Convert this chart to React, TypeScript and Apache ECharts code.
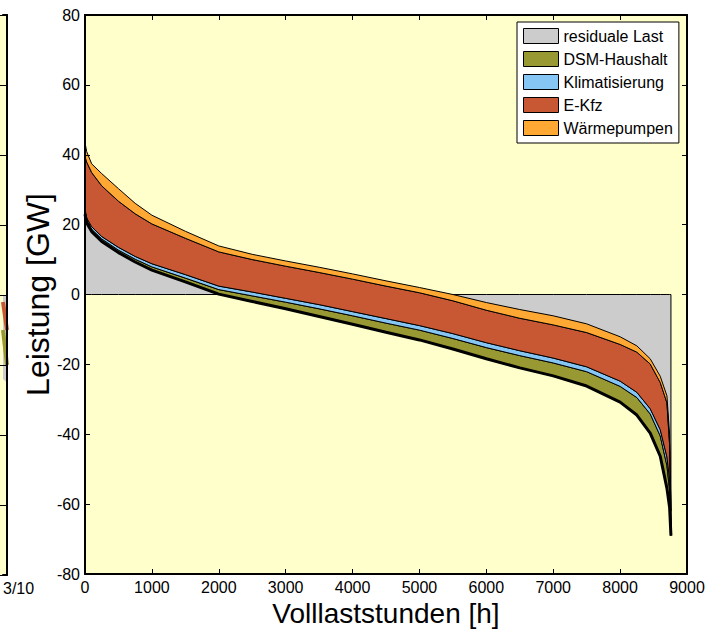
import React, { useEffect, useRef } from "react";
import * as echarts from "echarts";

// Volllaststunden [h]
const hours = [0, 25, 100, 250, 500, 750, 1000, 1500, 2000, 2500, 3000, 3500, 4000, 4500, 5000, 5500, 6000, 6500, 7000, 7500, 8000, 8250, 8450, 8600, 8700, 8740, 8760];
// residual load [GW]
const residual = [23, 20.5, 18, 15.2, 12, 9.3, 7.0, 3.6, 0.1, -2.0, -4.1, -6.3, -8.5, -10.8, -13.0, -15.6, -18.4, -21.0, -23.3, -26.2, -30.8, -34.5, -39.7, -46.3, -55.5, -61, -69];
// stacked band thicknesses [GW]
const dsm = [1, 0.8, 0.7, 0.7, 0.7, 0.8, 0.9, 1.1, 1.3, 1.6, 1.9, 2.2, 2.4, 2.6, 2.8, 3.0, 3.2, 3.5, 3.7, 4.1, 4.5, 5.0, 5.5, 5.8, 6.5, 5, 2];
const klima = [0.5, 0.6, 0.7, 0.7, 0.8, 0.8, 0.9, 1.0, 1.0, 1.1, 1.1, 1.2, 1.2, 1.3, 1.3, 1.4, 1.4, 1.4, 1.4, 1.4, 1.5, 1.5, 1.5, 1.8, 2.5, 3, 1];
const ekfz = [15, 16, 15.5, 14.5, 13.2, 12.2, 11.4, 10.4, 9.8, 9.3, 9.2, 9.2, 9.3, 9.3, 9.4, 9.4, 9.3, 9.3, 9.5, 9.8, 10.5, 11.5, 12.8, 13.5, 15.5, 10, 4];
const wp = [4, 3, 2.5, 3.5, 3.6, 3.0, 2.5, 2.0, 1.7, 1.5, 1.5, 1.5, 1.5, 1.5, 1.5, 1.8, 2.2, 2.5, 2.6, 2.5, 2.2, 1.8, 1.5, 1.8, 2.0, 3.0, 1];

const names = ["residuale Last", "DSM-Haushalt", "Klimatisierung", "E-Kfz", "Wärmepumpen"];
const colors = ["#CCCCCC", "#999933", "#85C6F5", "#C85834", "#FFA833"];

// partial neighbouring plot (left edge)
const leftX = [9.65, 10];
const leftResidual = [-24, -25];
const leftRed = [-2, -10];
const leftOlive = [-10, -20];
const leftTickLabel = "3/10";

const FONT = "Liberation Sans, Arial, Helvetica, sans-serif";

export default function App() {
  const ref = useRef<HTMLDivElement>(null);
  useEffect(() => {
    document.body.style.margin = "0";
    const chart = echarts.init(ref.current!, null, { renderer: "svg" });

    // cumulative curves built from the band arrays
    const cum: number[][] = [residual.slice()];
    [dsm, klima, ekfz, wp].forEach((arr) => {
      const prev = cum[cum.length - 1];
      cum.push(prev.map((v, i) => v + arr[i]));
    });
    const zeros = hours.map(() => 0);

    const polySeries = (name: string, lower: number[], upper: number[], color: string, z: number) => ({
      name,
      type: "custom",
      coordinateSystem: "cartesian2d",
      xAxisIndex: 0,
      yAxisIndex: 0,
      data: [[hours[0], upper[0]]],
      itemStyle: { color },
      z,
      silent: true,
      renderItem: (_p: any, api: any) => {
        const up = hours.map((h, i) => api.coord([h, upper[i]]));
        const lo = hours.map((h, i) => api.coord([h, lower[i]])).reverse();
        return {
          type: "polygon",
          shape: { points: up.concat(lo) },
          style: { fill: color, stroke: "#000", lineWidth: 1 },
        };
      },
    });

    const axisBase = {
      z: 10,
      nameMoveOverlap: false,
      axisLine: { onZero: false, lineStyle: { color: "#000", width: 2 } },
      axisTick: { inside: true, length: 5, lineStyle: { color: "#000", width: 1 } },
      splitLine: { show: false },
    };

    chart.setOption({
      animation: false,
      graphic: [
        { type: "rect", left: 0, top: 15, shape: { width: 7, height: 560 }, style: { fill: "#FFFFCC" }, z: 0, silent: true },
      ],
      grid: [
        { left: 85, top: 15, width: 602, height: 560, show: true, backgroundColor: "#FFFFCC", borderWidth: 0 },
        { left: 0, top: 15, width: 7, height: 560, show: true, backgroundColor: "#FFFFCC", borderWidth: 0 },
      ],
      legend: {
        data: names.map((n, i) => ({ name: n, itemStyle: { color: colors[i], borderColor: "#000", borderWidth: 1 } })),
        orient: "vertical",
        left: 517,
        top: 22,
        icon: "rect",
        itemWidth: 35,
        itemHeight: 15,
        itemGap: 7,
        padding: [6, 6, 7, 6],
        backgroundColor: "#fff",
        borderColor: "#000",
        borderWidth: 1,
        borderRadius: 0,
        selectedMode: false,
        textStyle: { fontSize: 16, color: "#000", fontFamily: FONT },
        z: 20,
      },
      xAxis: [
        {
          ...axisBase,
          gridIndex: 0, type: "value", min: 0, max: 9000, interval: 1000, position: "bottom",
          axisLabel: { color: "#000", fontSize: 16, fontFamily: FONT, margin: 5, formatter: (v: number) => String(v) },
          name: "Volllaststunden [h]", nameLocation: "middle", nameGap: 25,
          nameTextStyle: { fontSize: 28, color: "#000", fontFamily: FONT },
        },
        {
          ...axisBase,
          gridIndex: 0, type: "value", min: 0, max: 9000, interval: 1000, position: "top",
          axisLabel: { show: false },
        },
        {
          ...axisBase,
          gridIndex: 1, type: "value", min: 9.65, max: 10, interval: 0.35, position: "bottom",
          axisTick: { show: false },
          axisLabel: {
            color: "#000", fontSize: 16, fontFamily: FONT, margin: 5, align: "left",
            formatter: (v: number) => (v < 9.9 ? leftTickLabel : ""),
          },
        },
        {
          ...axisBase,
          gridIndex: 1, type: "value", min: 9.65, max: 10, interval: 0.35, position: "top",
          axisTick: { show: false },
          axisLabel: { show: false },
        },
      ],
      yAxis: [
        {
          ...axisBase,
          gridIndex: 0, type: "value", min: -80, max: 80, interval: 20, position: "left",
          axisLabel: { color: "#000", fontSize: 16, fontFamily: FONT, margin: 5 },
          name: "Leistung [GW]", nameLocation: "middle", nameGap: 31,
          nameTextStyle: { fontSize: 32, color: "#000", fontFamily: FONT },
        },
        {
          ...axisBase,
          gridIndex: 0, type: "value", min: -80, max: 80, interval: 20, position: "right",
          axisLabel: { show: false },
        },
        {
          ...axisBase,
          gridIndex: 1, type: "value", min: -80, max: 80, interval: 20, position: "right",
          axisTick: { inside: true, length: 7, lineStyle: { color: "#000", width: 1 } },
          axisLabel: { show: false },
        },
      ],
      series: [
        polySeries(names[0], zeros, residual, colors[0], 1),
        polySeries(names[1], cum[0], cum[1], colors[1], 2),
        polySeries(names[2], cum[1], cum[2], colors[2], 3),
        polySeries(names[3], cum[2], cum[3], colors[3], 4),
        polySeries(names[4], cum[3], cum[4], colors[4], 5),
        {
          name: "residual-line",
          type: "line",
          data: hours.map((h, i) => [h, residual[i]]),
          symbol: "none",
          lineStyle: { color: "#000", width: 3 },
          itemStyle: { color: "#000" },
          z: 6,
          silent: true,
        },
        {
          name: "leftGray",
          type: "line",
          xAxisIndex: 2,
          yAxisIndex: 2,
          data: leftX.map((x, i) => [x, leftResidual[i]]),
          symbol: "none",
          lineStyle: { width: 0 },
          areaStyle: { color: colors[0], opacity: 1, origin: 0 },
        },
        {
          name: "leftRed",
          type: "line",
          xAxisIndex: 2,
          yAxisIndex: 2,
          data: leftX.map((x, i) => [x, leftRed[i]]),
          symbol: "none",
          lineStyle: { color: colors[3], width: 4 },
        },
        {
          name: "leftOlive",
          type: "line",
          xAxisIndex: 2,
          yAxisIndex: 2,
          data: leftX.map((x, i) => [x, leftOlive[i]]),
          symbol: "none",
          lineStyle: { color: colors[1], width: 4 },
        },
      ],
    });
    return () => chart.dispose();
  }, []);
  return <div ref={ref} style={{ width: 709, height: 632 }} />;
}
